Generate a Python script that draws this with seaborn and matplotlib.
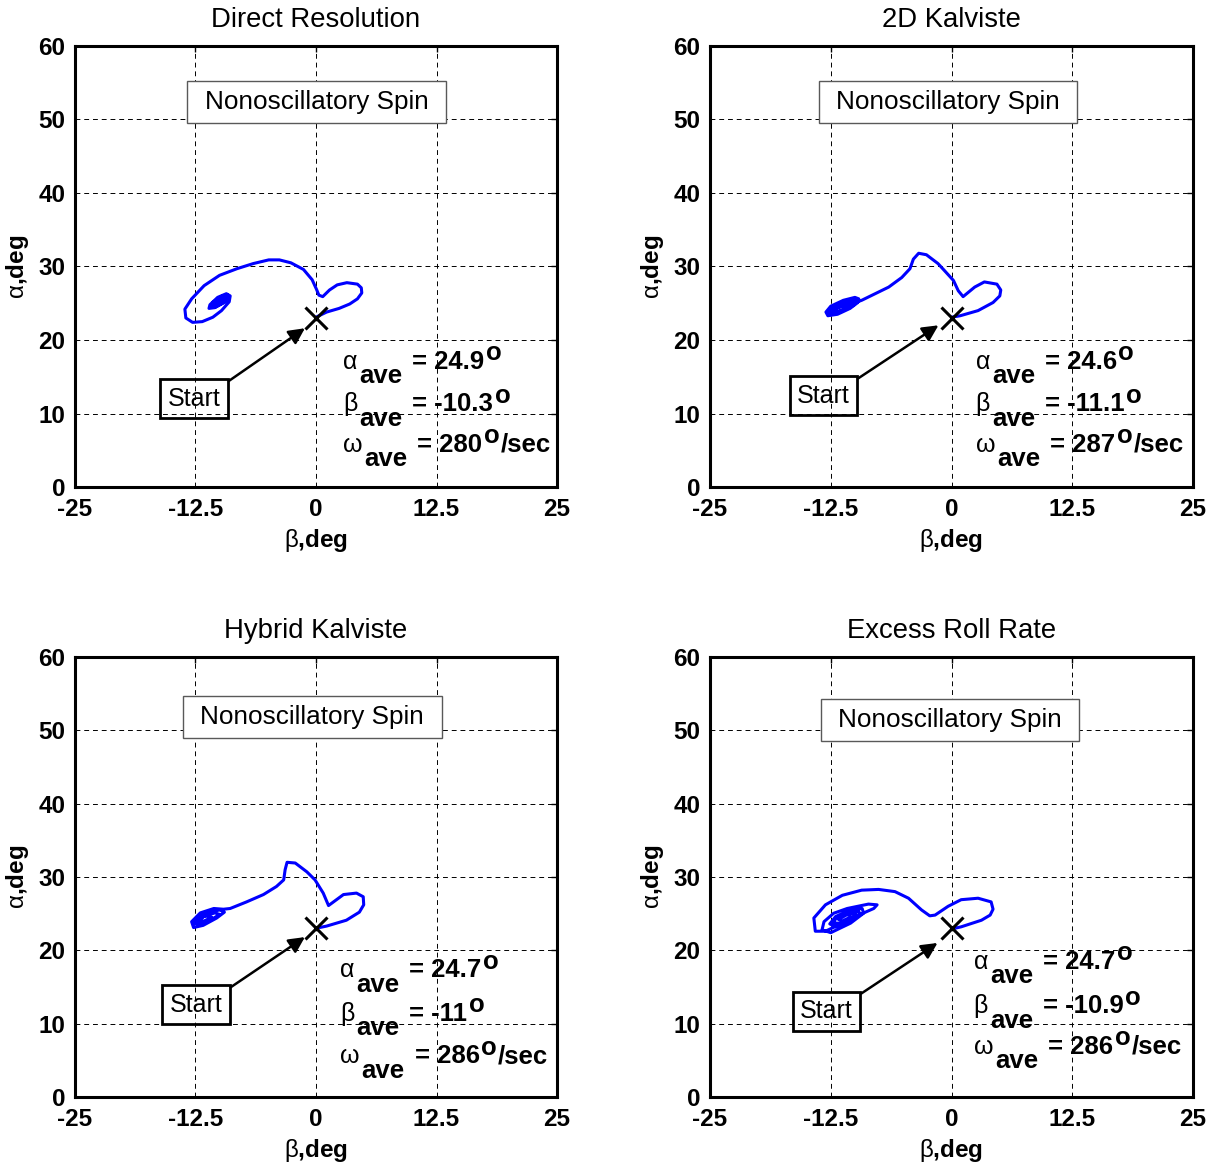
import matplotlib

matplotlib.use("Agg")
import matplotlib.pyplot as plt
import seaborn as sns
from matplotlib.path import Path

# --- trajectories (beta, alpha in deg) ---
DR_BETA = [0.0, 1.1, 2.4, 3.5, 4.3, 4.75, 4.7, 4.3, 3.2, 2.2, 1.4, 0.7, 0.3, 0.05, -0.4, -1.3,
           -2.6, -3.8, -4.9, -6.5, -8.2, -10.0, -11.6, -12.9, -13.6, -13.5, -12.8, -11.8,
           -10.7, -9.8,
           -9.0, -8.9, -9.3, -10.2, -11.0, -11.1, -10.5, -9.5, -9.0, -9.2, -9.9, -10.7,
           -10.9, -10.4, -9.5, -9.1, -9.4, -10.2, -10.7, -10.5, -9.8, -9.3, -9.5, -10.1,
           -10.4, -10.0, -9.6]
DR_ALPHA = [23.1, 23.8, 24.3, 24.9, 25.6, 26.4, 27.1, 27.6, 27.8, 27.5, 26.8, 25.9, 26.1, 26.9,
            28.2, 29.6, 30.5, 30.9, 30.9, 30.4, 29.7, 28.8, 27.4, 25.6, 24.2, 23.0, 22.4, 22.5,
            23.1, 24.0,
            25.2, 26.0, 26.3, 25.8, 24.8, 24.3, 24.4, 25.1, 25.8, 26.2, 25.9, 25.1,
            24.5, 24.5, 25.2, 25.8, 26.0, 25.4, 24.8, 24.7, 25.2, 25.7, 25.8, 25.3,
            25.0, 25.1, 25.5]

K2_BETA = [0.0, 0.9, 2.75, 4.3, 5.0, 5.1, 4.7, 3.4, 2.4, 1.2, 0.7, 0.2, -0.7, -1.4, -2.6,
           -3.4, -3.95, -4.3, -5.15, -6.5, -9.3, -10.3,
           -9.6, -10.0, -11.2, -12.5, -13.0, -12.8, -11.8, -10.5, -9.7, -9.9, -11.0,
           -12.2, -12.8, -12.5, -11.5, -10.4, -10.0, -10.6, -11.8, -12.4, -12.0, -11.0, -10.6,
           -11.4, -12.3, -12.6, -12.1, -11.2]
K2_ALPHA = [23.1, 23.3, 24.0, 25.1, 26.0, 26.8, 27.6, 27.9, 27.2, 25.9, 26.7, 28.1, 29.4, 30.4,
            31.6, 31.8, 31.0, 29.7, 28.5, 27.2, 25.4, 24.9,
            25.6, 25.8, 25.4, 24.6, 23.8, 23.3, 23.5, 24.3, 25.1, 25.5, 25.2,
            24.5, 23.8, 23.5, 23.8, 24.5, 24.9, 25.0, 24.4, 23.9, 23.8, 24.3, 24.6,
            24.6, 24.1, 23.7, 23.6, 24.0]

HK_BETA = [0.0, 1.1, 3.15, 4.5, 4.95, 4.9, 4.2, 2.85, 1.3, 0.75, -0.1, -0.95, -2.15, -3.0,
           -3.2, -3.35, -4.1, -5.45, -7.2, -8.9, -9.6,
           -10.6, -12.0, -12.9, -12.7, -11.7, -10.3, -9.5, -10.0, -11.3, -12.5, -12.6,
           -11.8, -10.7, -10.0, -10.5, -11.7, -12.2, -11.6, -10.8, -11.5, -12.4, -12.3]
HK_ALPHA = [23.0, 23.3, 24.1, 25.2, 26.2, 27.3, 27.8, 27.6, 26.1, 27.8, 29.6, 30.7, 31.9, 32.0,
            31.0, 29.6, 28.7, 27.6, 26.6, 25.7, 25.6,
            25.7, 25.1, 23.9, 23.1, 23.4, 24.4, 25.2, 25.5, 25.1, 24.3, 23.6,
            23.7, 24.3, 24.9, 25.1, 24.6, 24.0, 24.0, 24.5, 24.7, 24.0, 23.5]

ER_BETA = [0.0, 1.0, 3.1, 4.0, 4.3, 4.1, 2.75, 1.0, -0.35, -1.7, -2.25, -3.1, -4.45, -5.85,
           -7.55, -9.3, -11.3, -13.05, -14.25, -14.1, -13.05, -11.3, -9.6, -8.05, -7.7, -8.6,
           -10.8, -12.2, -13.2, -13.4, -12.5, -10.45, -9.1, -9.25,
           -10.5, -12.0, -12.6, -12.0, -10.8, -9.5, -9.6, -10.8, -12.0, -12.2, -11.4,
           -10.2, -9.9, -10.9, -11.7, -11.3, -10.5]
ER_ALPHA = [22.9, 23.2, 24.1, 24.8, 25.6, 26.6, 27.1, 26.9, 26.0, 24.8, 24.7, 25.5, 27.1, 28.0,
            28.3, 28.2, 27.5, 26.2, 24.4, 22.6, 22.6, 23.7, 24.8, 25.7, 26.2, 26.3,
            25.7, 25.05, 23.9, 22.8, 22.4, 23.7, 25.05, 25.7,
            25.5, 24.6, 23.6, 23.2, 23.8, 24.9, 25.3, 25.1, 24.3, 23.7, 23.7,
            24.5, 25.0, 24.8, 24.2, 24.0, 24.5]

TITLES = ["Direct Resolution", "2D Kalviste", "Hybrid Kalviste", "Excess Roll Rate"]
ALPHA_AVE = ["24.9", "24.6", "24.7", "24.7"]
BETA_AVE = ["-10.3", "-11.1", "-11", "-10.9"]
OMEGA_AVE = ["280", "287", "286", "286"]

X_TICKS = [-25, -12.5, 0, 12.5, 25]
X_LABELS = ["-25", "-12.5", "0", "12.5", "25"]
Y_TICKS = [0, 10, 20, 30, 40, 50, 60]
START = (0, 23)

sns.set_theme(style="white")
plt.rcParams["font.family"] = ["Liberation Sans", "DejaVu Sans"]
plt.rcParams["text.color"] = "black"
plt.rcParams["axes.labelcolor"] = "black"
plt.rcParams["mathtext.fontset"] = "custom"
plt.rcParams["mathtext.rm"] = "Liberation Sans"
plt.rcParams["mathtext.it"] = "Liberation Sans"
plt.rcParams["mathtext.bf"] = "Liberation Sans:bold"


def pad_box(padx, pady):
    """square box with separate x / y padding (fractions of the font size)"""
    def style(x0, y0, width, height, mutation_size):
        px, py = padx * mutation_size, pady * mutation_size
        x0, y0 = x0 - px, y0 - py
        x1, y1 = x0 + width + 2 * px, y0 + height + 2 * py
        return Path([(x0, y0), (x1, y0), (x1, y1), (x0, y1), (x0, y0)], closed=True)
    return style


fig = plt.figure(figsize=(12.17, 11.64), dpi=100)
renderer = fig.canvas.get_renderer()
PT = 72 / fig.dpi


def rich_line(ax, x, y, pieces):
    # pieces: (text, size, weight, dy in pt, gap before in pt)
    dx = 0.0
    for s, size, weight, dy, gap in pieces:
        dx += gap
        t = ax.annotate(s, (x, y), xytext=(dx, dy), textcoords="offset points", fontsize=size,
                        fontweight=weight, ha="left", va="baseline", zorder=6)
        dx += t.get_window_extent(renderer).width * PT


positions = [
    [0.0616, 0.5816, 0.3961, 0.3789],
    [0.5834, 0.5816, 0.3969, 0.3789],
    [0.0616, 0.0576, 0.3961, 0.3780],
    [0.5834, 0.0576, 0.3969, 0.3780],
]
trajs = [(DR_BETA, DR_ALPHA), (K2_BETA, K2_ALPHA), (HK_BETA, HK_ALPHA), (ER_BETA, ER_ALPHA)]
# layout of the annotations per panel
box_xy = [(0.05, 52.4), (-0.36, 52.4), (-0.4, 51.8), (-0.15, 51.4)]
start_xy = [(-12.65, 12.0), (-13.25, 12.4), (-12.45, 12.55), (-12.95, 11.7)]
tip_xy = [(-1.15, 21.6), (-1.35, 22.0), (-1.15, 21.8), (-1.45, 21.0)]
stat_x = [2.8, 2.5, 2.5, 2.3]
stat_y = [(16.1, 10.3, 4.8), (16.1, 10.3, 4.8), (16.3, 10.4, 4.6), (17.5, 11.4, 5.9)]

FS = 18.5        # bold text of the averages
GREEK = 18

for i, pos in enumerate(positions):
    ax = fig.add_axes(pos)
    b, a = trajs[i]
    sns.lineplot(x=b, y=a, sort=False, estimator=None, color="#0000ff", lw=2.2, ax=ax, zorder=3)
    ax.plot(*START, marker="x", ms=16, mew=2.2, color="black", zorder=4)

    ax.set_xlim(-25, 25)
    ax.set_ylim(0, 60)
    ax.set_xticks(X_TICKS, X_LABELS, fontsize=17.5, fontweight="bold")
    ax.set_yticks(Y_TICKS, [str(t) for t in Y_TICKS], fontsize=17.5, fontweight="bold")
    ax.tick_params(direction="in", length=4, width=1, top=True, right=True, colors="black")
    ax.tick_params(axis="x", pad=8)
    ax.tick_params(axis="y", pad=7)
    ax.grid(True, color="black", lw=0.7, ls=(0, (5, 4)))
    for sp in ax.spines.values():
        sp.set_color("black")
        sp.set_linewidth(2.2)
        sp.set_zorder(5)

    ax.set_title(TITLES[i], fontsize=19.8, pad=14, color="black")
    ax.set_xlabel(r"$\beta$,deg", fontsize=17.5, fontweight="bold", labelpad=4)
    ax.set_ylabel(r"$\alpha$,deg", fontsize=17.5, fontweight="bold", labelpad=5)

    ax.text(*box_xy[i], "Nonoscillatory Spin", fontsize=18.8, ha="center", va="center", zorder=6,
            bbox=dict(boxstyle=pad_box(0.67, 0.34), fc="white", ec="0.35", lw=1))

    ax.annotate("Start", xy=tip_xy[i], xytext=start_xy[i], fontsize=18, ha="center", va="center",
                zorder=6,
                bbox=dict(boxstyle=pad_box(0.3, 0.3), fc="none", ec="black", lw=2),
                arrowprops=dict(arrowstyle="-|>", color="black", lw=1.8, mutation_scale=24,
                                relpos=(1, 1), shrinkA=0, shrinkB=0))

    ya, yb, yw = stat_y[i]
    x0 = stat_x[i]
    rich_line(ax, x0, ya, [("\u03b1", GREEK, "normal", 0, 0), ("ave", FS, "bold", -10.5, 1.5),
                           ("= " + ALPHA_AVE[i], FS, "bold", 0, 7), ("o", FS, "bold", 6, 1)])
    rich_line(ax, x0, yb, [("\u03b2", GREEK, "normal", 0, 0), ("ave", FS, "bold", -10.5, 1.5),
                           ("= " + BETA_AVE[i], FS, "bold", 0, 7), ("o", FS, "bold", 6, 1)])
    rich_line(ax, x0, yw, [("\u03c9", GREEK, "normal", 0, 0), ("ave", FS, "bold", -10.5, 1.5),
                           ("= " + OMEGA_AVE[i], FS, "bold", 0, 7), ("o", FS, "bold", 6, 1),
                           ("/sec", FS, "bold", 0, 1)])

fig.savefig("out.png", dpi=100)
